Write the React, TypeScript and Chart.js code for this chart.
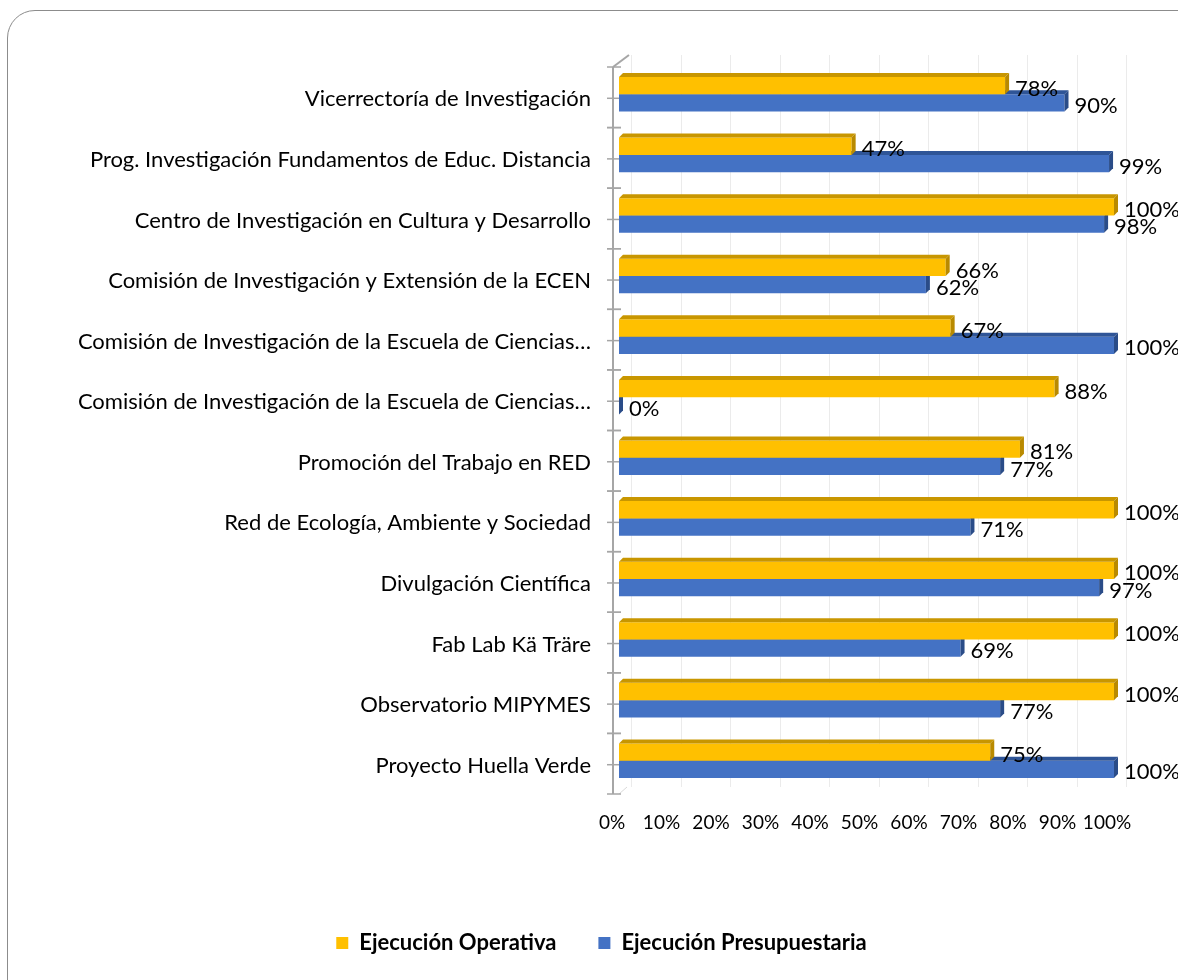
import React, { useEffect, useRef } from "react";
import { Chart, registerables } from "chart.js";

Chart.register(...registerables);

const categories = [
  "Vicerrectoría de Investigación",
  "Prog. Investigación Fundamentos de Educ. Distancia",
  "Centro de Investigación en Cultura y Desarrollo",
  "Comisión de Investigación y Extensión de la ECEN",
  "Comisión de Investigación de la Escuela de Ciencias…",
  "Comisión de Investigación de la Escuela de Ciencias…",
  "Promoción del Trabajo en RED",
  "Red de Ecología, Ambiente y Sociedad",
  "Divulgación Científica",
  "Fab Lab Kä Träre",
  "Observatorio MIPYMES",
  "Proyecto Huella Verde",
];

const ejecucionOperativa = [78, 47, 100, 66, 67, 88, 81, 100, 100, 100, 100, 75];
const ejecucionPresupuestaria = [90, 99, 98, 62, 100, 0, 77, 71, 97, 69, 77, 100];

const seriesNames = ["Ejecución Operativa", "Ejecución Presupuestaria"];
const frontColors = ["#FFC000", "#4472C4"];
const topColors = ["#C89600", "#2F5597"];
const sideColors = ["#B98A00", "#2A4C88"];

const FONT = "Lato, 'Open Sans', sans-serif";
const DEPTH = 4;

const depthPlugin = {
  id: "depth3d",
  beforeDatasetsDraw(chart: any) {
    const { ctx, chartArea } = chart;
    const xs = chart.scales.x;
    const ys = chart.scales.y;
    ctx.save();
    // back wall grid
    ctx.strokeStyle = "#ebebeb";
    ctx.lineWidth = 1;
    xs.ticks.forEach((t: any) => {
      const px = Math.round(xs.getPixelForValue(t.value) + 12) + 0.5;
      ctx.beginPath();
      ctx.moveTo(px, chartArea.top - 9);
      ctx.lineTo(px, chartArea.bottom - 4);
      ctx.stroke();
    });
    // axis line
    const ax = chartArea.left - 6;
    const band = ys.getPixelForValue(1) - ys.getPixelForValue(0);
    ctx.strokeStyle = "#a6a6a6";
    ctx.lineWidth = 2;
    ctx.beginPath();
    ctx.moveTo(ax, chartArea.top + 3);
    ctx.lineTo(ax, chartArea.bottom + 3);
    ctx.stroke();
    ctx.beginPath();
    ctx.moveTo(ax, chartArea.top + 3);
    ctx.lineTo(ax + 16, chartArea.top - 9);
    ctx.stroke();
    ctx.strokeStyle = "#d9d9d9";
    ctx.lineWidth = 1;
    ctx.beginPath();
    ctx.moveTo(ax + 6, chartArea.bottom + 3);
    ctx.lineTo(ax + 14, chartArea.bottom - 4);
    ctx.stroke();
    // ticks
    ctx.strokeStyle = "#a6a6a6";
    ctx.lineWidth = 1.5;
    categories.forEach((_, i) => {
      const c = ys.getPixelForValue(i);
      [c - band / 2 + 3, c + 4, c + band / 2 + 3].forEach((ty) => {
        ctx.beginPath();
        ctx.moveTo(ax - 6, ty);
        ctx.lineTo(ax + 8, ty);
        ctx.stroke();
      });
    });
    ctx.restore();
  },
  afterDatasetDraw(chart: any, args: any) {
    const { ctx } = chart;
    const idx = args.index;
    ctx.save();
    args.meta.data.forEach((bar: any) => {
      const { x, y, base, height } = bar.getProps(["x", "y", "base", "height"], true);
      const top = y - height / 2;
      const bottom = y + height / 2;
      ctx.fillStyle = topColors[idx];
      ctx.beginPath();
      ctx.moveTo(base, top);
      ctx.lineTo(base + DEPTH, top - DEPTH);
      ctx.lineTo(x + DEPTH, top - DEPTH);
      ctx.lineTo(x, top);
      ctx.closePath();
      ctx.fill();
      ctx.fillStyle = sideColors[idx];
      ctx.beginPath();
      ctx.moveTo(x, top);
      ctx.lineTo(x + DEPTH, top - DEPTH);
      ctx.lineTo(x + DEPTH, bottom - DEPTH);
      ctx.lineTo(x, bottom);
      ctx.closePath();
      ctx.fill();
    });
    ctx.restore();
  },
  afterDatasetsDraw(chart: any) {
    const { ctx } = chart;
    ctx.save();
    ctx.font = `22px ${FONT}`;
    ctx.fillStyle = "#000";
    ctx.textAlign = "left";
    ctx.textBaseline = "middle";
    chart.data.datasets.forEach((ds: any, di: number) => {
      const meta = chart.getDatasetMeta(di);
      meta.data.forEach((bar: any, i: number) => {
        const { x, y } = bar.getProps(["x", "y"], true);
        ctx.fillText(ds.data[i] + "%", x + 10, y + 3);
      });
    });
    ctx.restore();
  },
};

export default function App() {
  const ref = useRef<HTMLCanvasElement>(null);
  useEffect(() => {
    if (!ref.current) return;
    const chart = new Chart(ref.current, {
      type: "bar",
      data: {
        labels: categories,
        datasets: [
          {
            label: seriesNames[0],
            data: ejecucionOperativa,
            backgroundColor: frontColors[0],
            categoryPercentage: 0.57,
            barPercentage: 1,
          },
          {
            label: seriesNames[1],
            data: ejecucionPresupuestaria,
            backgroundColor: frontColors[1],
            categoryPercentage: 0.57,
            barPercentage: 1,
          },
        ],
      },
      options: {
        indexAxis: "y",
        responsive: false,
        animation: false,
        devicePixelRatio: 1,
        layout: { padding: { top: 64, left: 25, right: 0, bottom: 16 } },
        scales: {
          x: {
            type: "linear",
            min: 0,
            max: 100,
            grid: { display: false, drawTicks: false },
            border: { display: false },
            ticks: {
              stepSize: 10,
              autoSkip: false,
              callback: (v: any) => v + "%",
              font: { family: FONT, size: 19 },
              color: "#000",
              padding: 20,
              labelOffset: -7,
              maxRotation: 0,
            },
            afterFit: (s: any) => {
              s.height = 99;
            },
          },
          y: {
            type: "category",
            grid: { display: false, drawTicks: false },
            border: { display: false },
            ticks: {
              font: { family: FONT, size: 22 },
              color: "#000",
              padding: 28,
              labelOffset: 5,
              autoSkip: false,
            },
            afterFit: (s: any) => {
              s.width = 594;
            },
          },
          yRight: {
            type: "linear",
            position: "right",
            display: true,
            grid: { display: false, drawTicks: false },
            border: { display: false },
            ticks: { display: false },
            afterFit: (s: any) => {
              s.width = 64;
            },
          },
        },
        plugins: {
          legend: {
            position: "bottom",
            labels: {
              boxWidth: 12,
              boxHeight: 12,
              padding: 42,
              color: "#000",
              font: { family: FONT, size: 22, weight: "bold" },
            },
          },
          tooltip: { enabled: false },
        },
      },
      plugins: [depthPlugin],
    });
    return () => chart.destroy();
  }, []);

  return (
    <div style={{ position: "absolute", left: 0, top: 0, width: 1178, height: 980, overflow: "hidden", background: "#fff" }}>
      <div
        style={{
          position: "absolute",
          left: 7,
          top: 10,
          width: 1230,
          height: 1030,
          border: "1px solid #8c8c8c",
          borderRadius: 28,
          boxSizing: "border-box",
        }}
      />
      <canvas ref={ref} width={1178} height={980} style={{ position: "absolute", left: 0, top: 0, width: 1178, height: 980 }} />
    </div>
  );
}
